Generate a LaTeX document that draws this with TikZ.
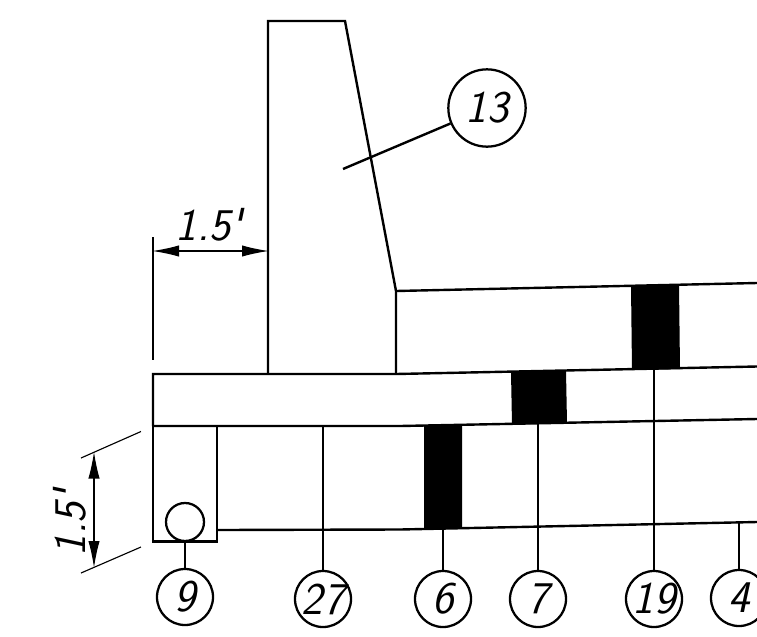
\documentclass[tikz,border=0pt]{standalone}
\usepackage{fontspec}
\usetikzlibrary{arrows.meta}
\newcommand{\cadfont}{\fontsize{34pt}{34pt}\selectfont\sffamily\itshape}
\tikzset{
  x=0.75pt,y=-0.75pt,
  heavy/.style={line width=1.8pt,black,line join=miter},
  thin dim/.style={line width=0.85pt,black},
  solid block/.style={fill=black,draw=none},
  balloon/.style={circle,draw=black,line width=1.7pt,minimum size=42pt,inner sep=0pt,fill=none,font=\cadfont},
  dim text/.style={inner sep=0pt,font=\cadfont},
  dimarrow/.style={{Latex[length=20pt,width=8.5pt]}-{Latex[length=20pt,width=8.5pt]},thin dim,shorten <=-0.5pt,shorten >=-0.5pt}
}
\begin{document}
\begin{tikzpicture}
\useasboundingbox (0,0) rectangle (757,636);
% black blocks
\fill[solid block] (631,285.5) -- (679,284.5) -- (680,369) -- (632,370) -- cycle;
\fill[solid block] (511,372) -- (566,371) -- (567,423) -- (512,424.5) -- cycle;
\fill[solid block] (424,426) -- (462,425) -- (462,528) -- (424,529) -- cycle;
% wall
\draw[heavy] (268,374) -- (268,21) -- (345,21) -- (396,291) -- (396,374);
% sloping layers
\draw[heavy] (396,291) -- (757,283);
\draw[heavy] (153,426) -- (153,374) -- (396,374) -- (757,366.5);
\draw[heavy] (153,426) -- (400,426) -- (757,419);
\draw[heavy] (218,530) -- (400,529.5) -- (757,522);
\draw[heavy] (153,426) -- (153,541.5) -- (217,541.5) -- (217,426);
% pipe
\node[circle,draw=black,line width=1.7pt,minimum size=28.5pt,inner sep=0pt] (pipe) at (185,522) {};
% balloons
\node[balloon] (b9) at (185,597) {9};
\node[balloon] (b27) at (323,599) {27};
\node[balloon] (b6) at (443,599) {6};
\node[balloon] (b7) at (538,599) {7};
\node[balloon] (b19) at (654,599) {19};
\node[balloon] (b4) at (739,598) {4};
\node[balloon,minimum size=58pt] (b13) at (487,108) {13};
% anchor points
\coordinate (t27) at (323,426);
\coordinate (t6) at (443,528);
\coordinate (t7) at (538,424);
\coordinate (t19) at (654,369);
\coordinate (t4) at (739,522);
\coordinate (t13) at (343,169);
% leaders
\draw[heavy] (pipe.south) -- (b9.north);
\draw[heavy] (t27) -- (b27.north);
\draw[heavy] (t6) -- (b6.north);
\draw[heavy] (t7) -- (b7.north);
\draw[heavy] (t19) -- (b19.north);
\draw[heavy] (t4) -- (b4.north);
\draw[heavy] (t13) -- (b13);
% horizontal dimension
\coordinate (hl) at (153,251);
\coordinate (hr) at (268,251);
\draw[thin dim] (153,237) -- (153,360);
\draw[dimarrow] (hl) -- (hr);
\node[dim text] (h15) at (209,225) {1.5\textquotesingle};
% vertical dimension
\coordinate (vt) at (94,452.5);
\coordinate (vb) at (94,567);
\draw[thin dim] (81,458) -- (141,431.5);
\draw[thin dim] (81,573) -- (141,547);
\draw[dimarrow] (vt) -- (vb);
\node[dim text,rotate=90] (v15) at (70,523) {1.5\textquotesingle};
\end{tikzpicture}
\end{document}
